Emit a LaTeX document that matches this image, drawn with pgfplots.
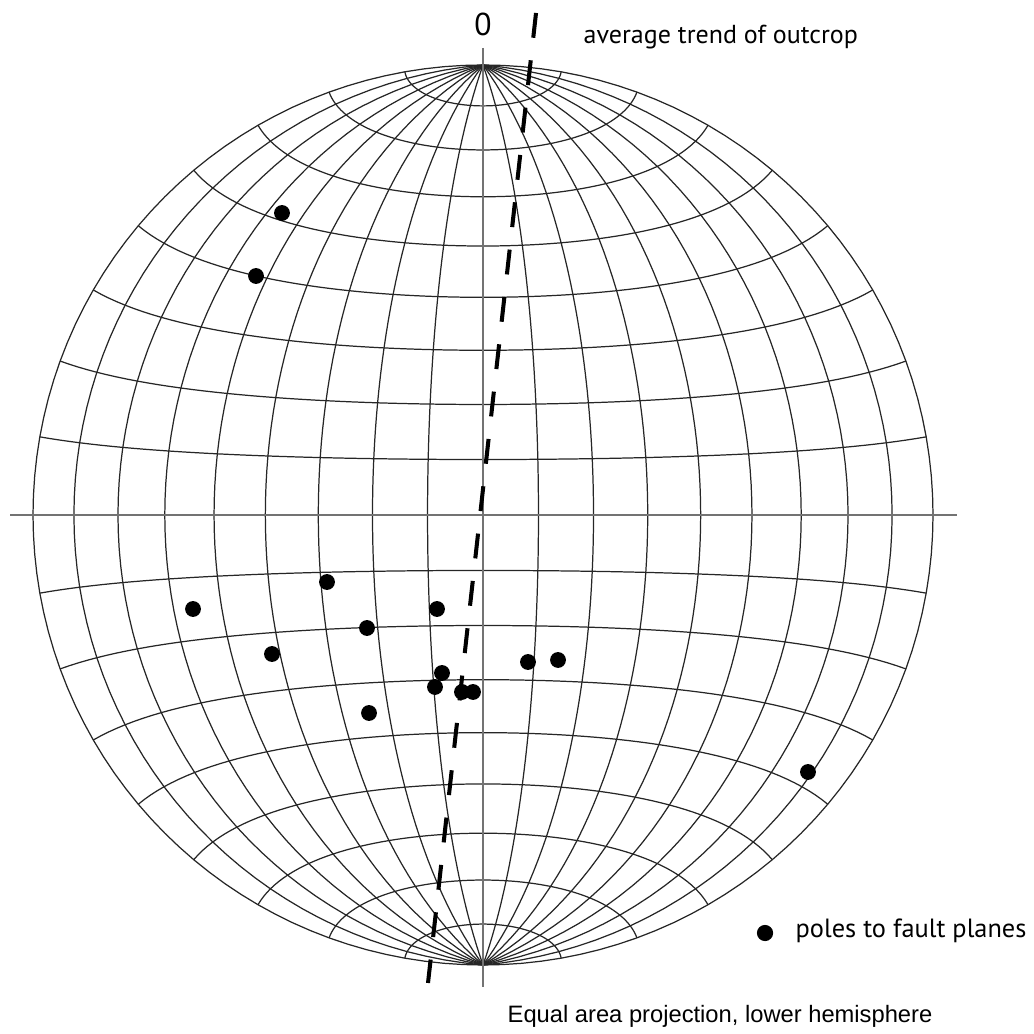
\documentclass[border=0pt]{standalone}
\usepackage{fontspec}
\setmainfont{PT Sans}
\newfontfamily\arialfont{Liberation Sans}
\usepackage{pgfplots}
\pgfplotsset{compat=1.18}
\begin{document}
\begin{tikzpicture}
\begin{axis}[
  scale only axis, width=10.34cm, height=10.34cm,
  xmin=-1.07333, xmax=1.22444, ymin=-1.15333, ymax=1.14444,
  hide axis, clip=false]
% equal-area (Schmidt) net: meridians
\pgfplotsinvokeforeach{-90,-80,...,-10,10,20,...,90}{
  \addplot[black!85, line width=0.35pt, domain=-90:90, samples=73, variable=\t]
    ({cos(\t)*sin(#1)/sqrt(1+cos(\t)*cos(#1))},{sin(\t)/sqrt(1+cos(\t)*cos(#1))});
}
% small circles (latitude)
\pgfplotsinvokeforeach{-80,-70,...,-10,10,20,...,80}{
  \addplot[black!85, line width=0.35pt, domain=-90:90, samples=73, variable=\t]
    ({cos(#1)*sin(\t)/sqrt(1+cos(#1)*cos(\t))},{sin(#1)/sqrt(1+cos(#1)*cos(\t))});
}
% axes
\addplot[black!55, line width=0.45pt] coordinates {(-1.0511,0) (1.0533,0)};
\addplot[black!55, line width=0.45pt] coordinates {(0,1.0378) (0,-1.0489)};
% average trend of outcrop
\addplot[black, line width=1.15pt, dash pattern=on 7.1pt off 6.45pt] coordinates {(0.1178,1.1156) (-0.1222,-1.04)};
% poles to fault planes
\addplot[only marks, mark=*, mark size=2.05pt, black] coordinates {
(-0.4467,0.6711) (-0.5044,0.5311) (-0.6444,-0.2089) (-0.3467,-0.1489)
(-0.2578,-0.2511) (-0.4689,-0.3089) (-0.2533,-0.4400) (-0.1022,-0.2089)
(-0.0911,-0.3511) (-0.1067,-0.3822) (-0.0467,-0.3933) (-0.0222,-0.3933)
(0.1000,-0.3267) (0.1667,-0.3222) (0.7222,-0.5711)};
% legend symbol
\addplot[only marks, mark=*, mark size=2.1pt, black] coordinates {(0.6267,-0.9289)};
\node[font=\fontsize{9}{10}\selectfont, inner sep=0pt] at (axis cs:0,1.0911) {0};
\node[font=\fontsize{7.4}{9}\selectfont, inner sep=0pt, anchor=base west] at (axis cs:0.2222,1.0467) {average trend of outcrop};
\node[font=\fontsize{7.5}{9}\selectfont, inner sep=0pt, anchor=base west] at (axis cs:0.6933,-0.9378) {poles to fault planes};
\node[font=\arialfont\fontsize{6.75}{8}\selectfont, inner sep=0pt, anchor=base] at (axis cs:0.5267,-1.1267) {Equal area projection, lower hemisphere};
\path (rel axis cs:0,0) rectangle (rel axis cs:1,1);
\end{axis}
\end{tikzpicture}
\end{document}
